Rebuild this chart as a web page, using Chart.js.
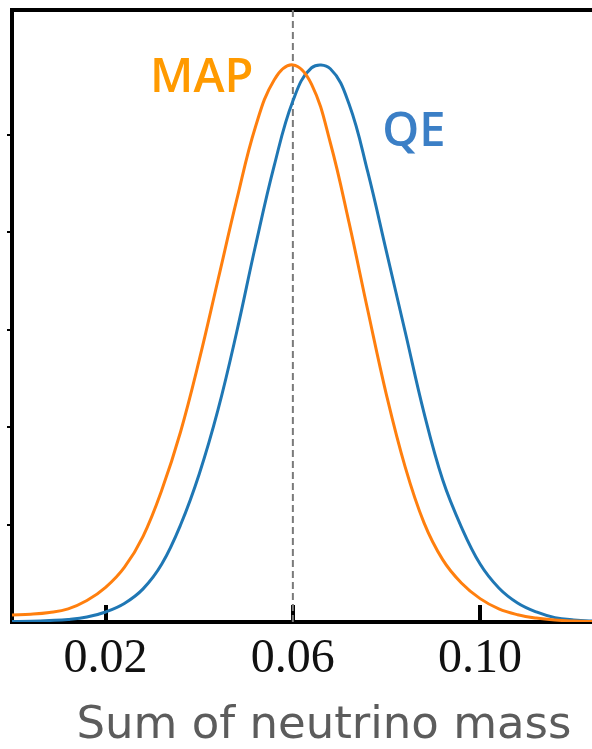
<!DOCTYPE html>
<html lang="en">
<head>
  <meta charset="UTF-8" />
  <title>Sum of neutrino mass</title>
  <script src="https://cdn.jsdelivr.net/npm/chart.js"></script>
  <style>
    html, body {
      margin: 0;
      padding: 0;
      background: #fff;
      overflow: hidden;
    }
    .wrap {
      width: 592px;
      height: 749px;
      overflow: hidden;
    }
  </style>
</head>
<body>
  <div class="wrap">
    <!-- the plot runs past the right edge of the frame -->
    <canvas id="massChart" width="636" height="749"></canvas>
  </div>

  <script>
    // posterior curves for the summed neutrino mass
    const massGrid = [0.000, 0.004, 0.008, 0.012, 0.016, 0.020, 0.024, 0.028, 0.032, 0.036,
                      0.040, 0.044, 0.048, 0.052, 0.056, 0.060, 0.064, 0.068, 0.072, 0.076,
                      0.080, 0.084, 0.088, 0.092, 0.096, 0.100, 0.104, 0.108, 0.112, 0.116,
                      0.120, 0.124, 0.128, 0.132];
    const mapDensity = [0.72, 0.80, 0.98, 1.35, 2.20, 3.55, 5.60, 8.80, 13.55, 19.51,
                        26.90, 35.11, 43.33, 50.82, 55.65, 57.19, 55.20, 49.20, 41.00, 32.00,
                        23.30, 15.90, 10.20, 6.40, 4.00, 2.40, 1.35, 0.75, 0.40, 0.20,
                        0.10, 0.05, 0.02, 0.01];
    const qeDensity = [0.05, 0.08, 0.15, 0.26, 0.51, 1.03, 1.90, 3.40, 5.95, 9.96,
                       15.20, 21.77, 29.77, 38.60, 46.82, 53.49, 56.90, 56.80, 53.18, 46.20,
                       37.99, 29.77, 21.50, 14.60, 9.75, 5.95, 3.49, 1.95, 1.03, 0.45,
                       0.21, 0.10, 0.05, 0.02];
    const trueMass = 0.06;
    const xTickValues = [0.02, 0.06, 0.10];
    const yTickValues = [10, 20, 30, 40, 50];
    const xRange = [0, 0.1333];
    const yRange = [0, 62.83];

    // curve names written next to the peaks (anchored in data units)
    const curveLabels = [
      { text: 'MAP', x: 0.0295, y: 54.4, color: '#ff9a00' },
      { text: 'QE', x: 0.0791, y: 48.9, color: '#3b7fc6' }
    ];

    const toPoints = (xs, ys) => xs.map((x, i) => ({ x: x, y: ys[i] }));

    const curveNames = {
      id: 'curveNames',
      afterDatasetsDraw(chart) {
        const ctx = chart.ctx;
        const xs = chart.scales.x;
        const ys = chart.scales.y;
        ctx.save();
        ctx.font = '600 47px "Open Sans"';
        ctx.textAlign = 'left';
        ctx.textBaseline = 'alphabetic';
        curveLabels.forEach(l => {
          ctx.fillStyle = l.color;
          ctx.fillText(l.text, xs.getPixelForValue(l.x), ys.getPixelForValue(l.y));
        });
        ctx.restore();
      }
    };

    new Chart(document.getElementById('massChart'), {
      type: 'line',
      data: {
        datasets: [
          {
            label: 'MAP',
            data: toPoints(massGrid, mapDensity),
            borderColor: '#ff7f0e',
            borderWidth: 3,
            pointRadius: 0,
            tension: 0.4,
            fill: false
          },
          {
            label: 'QE',
            data: toPoints(massGrid, qeDensity),
            borderColor: '#1f77b4',
            borderWidth: 3,
            pointRadius: 0,
            tension: 0.4,
            fill: false
          },
          {
            label: 'true mass',
            data: [{ x: trueMass, y: yRange[0] }, { x: trueMass, y: yRange[1] }],
            borderColor: '#7a7a7a',
            borderWidth: 2,
            borderDash: [7, 4],
            pointRadius: 0,
            fill: false
          }
        ]
      },
      options: {
        responsive: false,
        animation: false,
        layout: { padding: { left: 7, right: 0, top: 10, bottom: 0 } },
        plugins: {
          legend: { display: false },
          tooltip: { enabled: false }
        },
        scales: {
          x: {
            type: 'linear',
            position: 'bottom',
            min: xRange[0],
            max: xRange[1],
            afterBuildTicks: s => { s.ticks = xTickValues.map(v => ({ value: v })); },
            afterFit: s => { s.height = 127; },
            ticks: {
              autoSkip: false,
              maxRotation: 0,
              padding: 26,
              color: '#111',
              font: { family: '"Liberation Serif", serif', size: 48, lineHeight: 1.2 },
              callback: v => v.toFixed(2)
            },
            grid: {
              drawOnChartArea: false,
              drawTicks: true,
              tickLength: -17,
              lineWidth: 4,
              color: '#000'
            },
            border: { display: true, width: 4, color: '#000' },
            title: {
              display: true,
              text: 'Sum of neutrino mass',
              color: '#5c5c5c',
              font: { family: '"DejaVu Sans", sans-serif', size: 45, lineHeight: 1 },
              padding: { top: 19, bottom: 0 }
            }
          },
          xTop: {
            type: 'linear',
            position: 'top',
            min: xRange[0],
            max: xRange[1],
            afterFit: s => { s.height = 0; },
            ticks: { display: false },
            grid: { display: false, drawTicks: false },
            border: { display: true, width: 4, color: '#000' }
          },
          y: {
            type: 'linear',
            position: 'left',
            min: yRange[0],
            max: yRange[1],
            afterBuildTicks: s => { s.ticks = yTickValues.map(v => ({ value: v })); },
            afterFit: s => { s.width = 5; },
            ticks: { display: false },
            grid: {
              drawOnChartArea: false,
              drawTicks: true,
              tickLength: 5,
              lineWidth: 2,
              color: '#000'
            },
            border: { display: true, width: 4, color: '#000' }
          }
        }
      },
      plugins: [curveNames]
    });
  </script>
</body>
</html>
